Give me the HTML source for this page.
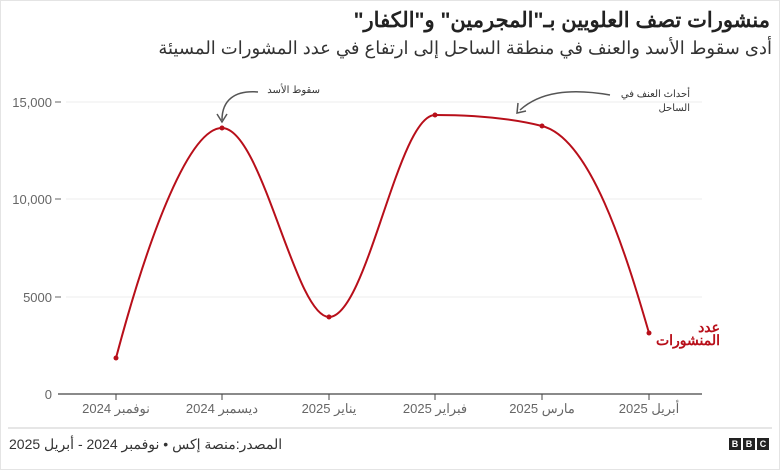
<!DOCTYPE html>
<html><head><meta charset="utf-8"><style>
body{margin:0;width:780px;height:470px;background:#fff;overflow:hidden;font-family:"Liberation Sans","Noto Sans CJK SC",sans-serif}
.t{position:absolute;direction:rtl;white-space:nowrap}
</style></head><body>
<div style="position:absolute;left:0;top:0;width:778px;height:468px;border:1px solid #e4e4e4"></div>
<div class="t" style="right:10px;top:8px;font-size:21px;font-weight:bold;color:#222">منشورات تصف العلويين بـ"المجرمين" و"الكفار"</div>
<div class="t" style="right:8px;top:38px;font-size:18px;color:#333">أدى سقوط الأسد والعنف في منطقة الساحل إلى ارتفاع في عدد المشورات المسيئة</div>
<svg width="780" height="470" style="position:absolute;left:0;top:0" font-family="Liberation Sans, Noto Sans CJK SC, sans-serif">
<g stroke="#ececec" stroke-width="1"><line x1="66" y1="102" x2="702" y2="102"/><line x1="66" y1="199" x2="702" y2="199"/><line x1="66" y1="297" x2="702" y2="297"/></g>
<g fill="#666" font-size="13" text-anchor="end">
<text x="52" y="107">15,000</text><text x="52" y="204">10,000</text><text x="52" y="302">5000</text><text x="52" y="399">0</text></g>
<g stroke="#666"><line x1="55" y1="102" x2="61" y2="102"/><line x1="55" y1="199" x2="61" y2="199"/><line x1="55" y1="297" x2="61" y2="297"/></g>
<line x1="58" y1="394" x2="702" y2="394" stroke="#444" stroke-width="1.2"/>
<g stroke="#444"><line x1="116" y1="394" x2="116" y2="400"/><line x1="222" y1="394" x2="222" y2="400"/><line x1="329" y1="394" x2="329" y2="400"/><line x1="435" y1="394" x2="435" y2="400"/><line x1="542" y1="394" x2="542" y2="400"/><line x1="649" y1="394" x2="649" y2="400"/></g>
<path d="M116,358 C150,230 190,128 222,128 C262,128 295,317 329,317 C367,317 398,115 435,115 C475,115 510,118 542,126 C590,138 625,250 649,333" fill="none" stroke="#b80f1a" stroke-width="2"/>
<g fill="#b80f1a"><circle cx="116" cy="358" r="2.5"/><circle cx="222" cy="128" r="2.5"/><circle cx="329" cy="317" r="2.5"/><circle cx="435" cy="115" r="2.5"/><circle cx="542" cy="126" r="2.5"/><circle cx="649" cy="333" r="2.5"/></g>
<g fill="none" stroke="#555" stroke-width="1.5"><path d="M258,92 C235,90 222,100 222,120"/><path d="M217,114 L222,122 L227,114"/><path d="M610,95 C570,88 540,92 520,110"/><path d="M518,103 L517,113 L526,111"/></g>
<line x1="8" y1="428" x2="772" y2="428" stroke="#ccc"/>
<g fill="#222"><rect x="729" y="438" width="12" height="12"/><rect x="743" y="438" width="12" height="12"/><rect x="757" y="438" width="12" height="12"/></g>
<g fill="#fff" font-size="9" font-weight="bold" text-anchor="middle"><text x="735" y="447">B</text><text x="749" y="447">B</text><text x="763" y="447">C</text></g>
</svg>
<div class="t" style="left:66px;top:401px;width:100px;text-align:center;font-size:13px;color:#666">نوفمبر 2024</div>
<div class="t" style="left:172px;top:401px;width:100px;text-align:center;font-size:13px;color:#666">ديسمبر 2024</div>
<div class="t" style="left:279px;top:401px;width:100px;text-align:center;font-size:13px;color:#666">يناير 2025</div>
<div class="t" style="left:385px;top:401px;width:100px;text-align:center;font-size:13px;color:#666">فبراير 2025</div>
<div class="t" style="left:492px;top:401px;width:100px;text-align:center;font-size:13px;color:#666">مارس 2025</div>
<div class="t" style="left:599px;top:401px;width:100px;text-align:center;font-size:13px;color:#666">أبريل 2025</div>
<div class="t" style="left:258px;top:85px;width:62px;text-align:right;font-size:10px;color:#333">سقوط الأسد</div>
<div class="t" style="left:590px;top:88px;width:100px;text-align:right;font-size:10px;line-height:14px;color:#333">أحداث العنف في<br>الساحل</div>
<div class="t" style="left:600px;top:321px;width:120px;text-align:right;font-size:14px;font-weight:bold;line-height:13px;color:#b80f1a">عدد<br>المنشورات</div>
<div class="t" style="left:9px;top:436px;font-size:14px;color:#333">المصدر:منصة إكس • نوفمبر 2024 - أبريل 2025</div>
</body></html>
